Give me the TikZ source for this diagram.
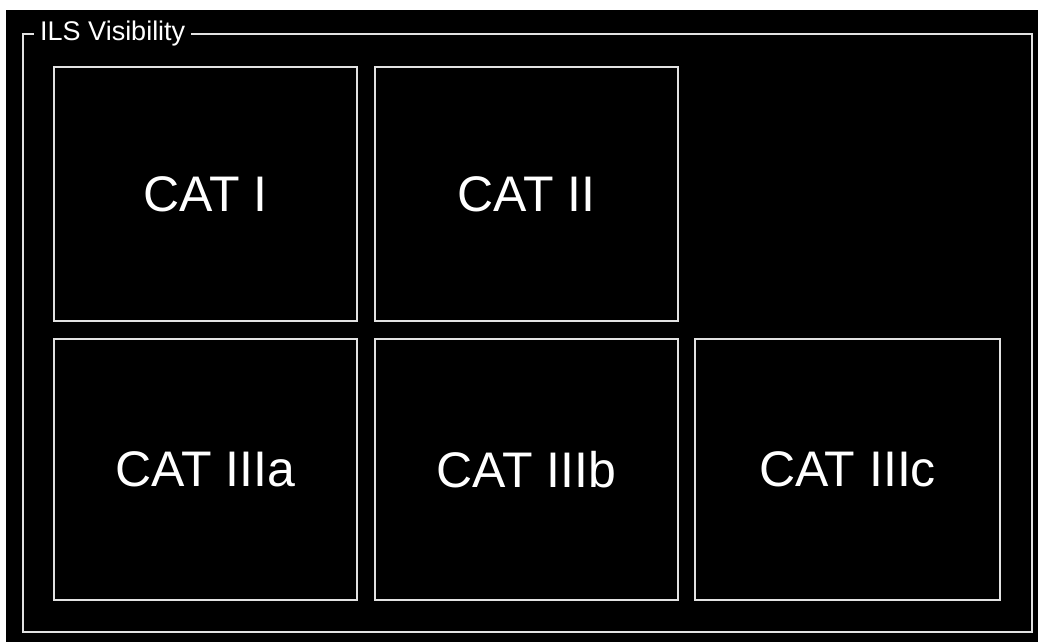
\documentclass[tikz,border=0pt]{standalone}
\usepackage{fontspec}
\setmainfont{Liberation Sans}
\definecolor{panelline}{HTML}{E2E2E2}
\tikzset{
    catbox/.style={draw=panelline, line width=1.6pt, text=white, inner sep=0pt, outer sep=0pt,
        anchor=north west, font=\fontsize{50}{60}\selectfont},
    grouptitle/.style={fill=black, text=white, anchor=west, inner xsep=6pt, inner ysep=2pt,
        font=\fontsize{27}{32}\selectfont}
}
\begin{document}
\begin{tikzpicture}[x=1pt, y=-1pt]
    \useasboundingbox (0,0) rectangle (1038,642);

    % Draw the page and the dark panel
    \fill[white] (0,0) rectangle (1038,642);
    \fill[black] (6,10) rectangle (1038,642);

    % Draw the group frame
    \draw[panelline, line width=1.6pt] (23,34) rectangle (1032,632);

    % Title of the group, cutting the top line
    \node[grouptitle] (title) at (34,34) {ILS Visibility};

    % Top row of categories
    \node[catbox, minimum width=303pt, minimum height=254pt] (cati) at (54,67) {CAT I};
    \node[catbox, minimum width=303pt, minimum height=254pt] (catii) at (375,67) {CAT II};

    % Bottom row of categories
    \node[catbox, minimum width=303pt, minimum height=261pt] (catiiia) at (54,339) {CAT IIIa};
    \node[catbox, minimum width=303pt, minimum height=261pt] (catiiib) at (375,339) {CAT IIIb};
    \node[catbox, minimum width=305pt, minimum height=261pt] (catiiic) at (695,339) {CAT IIIc};

\end{tikzpicture}
\end{document}
